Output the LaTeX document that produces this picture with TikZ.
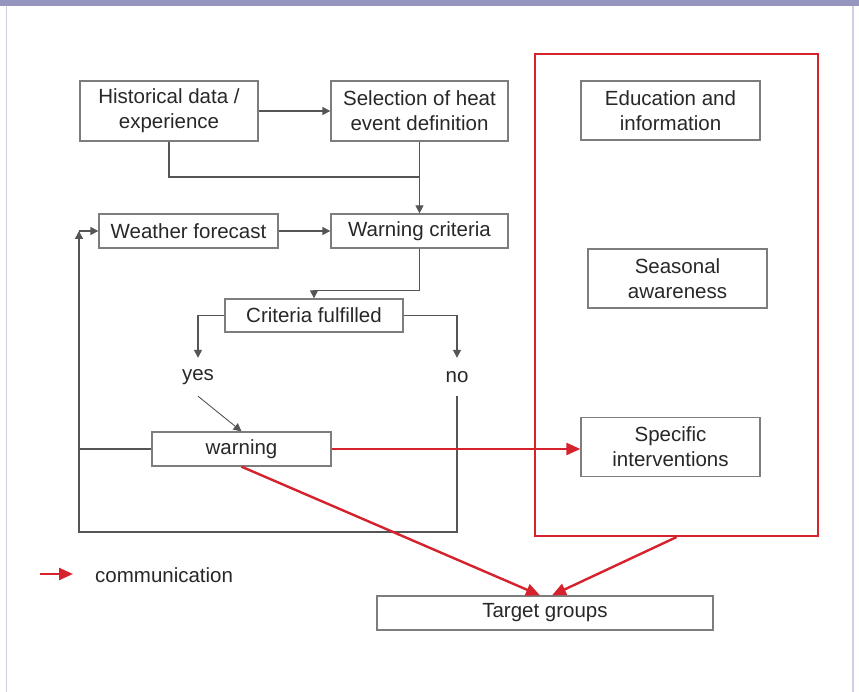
\documentclass[tikz,border=0pt]{standalone}
\usepackage{fontspec}
\setmainfont{Liberation Sans}
\usetikzlibrary{arrows.meta}
\definecolor{bandcol}{RGB}{149,149,192}
\definecolor{framecol}{RGB}{206,206,230}
\definecolor{boxcol}{RGB}{125,125,125}
\definecolor{linecol}{RGB}{85,85,85}
\definecolor{txtcol}{RGB}{40,40,40}
\definecolor{commred}{RGB}{214,34,44}
\tikzset{
  stepbox/.style={draw=boxcol, line width=1.3pt, fill=white, text=txtcol,
    align=center, inner sep=0pt, font=\fontsize{20.5}{25}\selectfont},
  plain/.style={text=txtcol, inner sep=0pt, font=\fontsize{20.5}{25}\selectfont},
  conn/.style={draw=linecol, line width=1.3pt},
  connarrow/.style={conn, -{Triangle[length=8pt,width=8pt]}},
  commarrow/.style={draw=commred, line width=2.4pt, -{Triangle[length=14pt,width=12pt]}},
}
\begin{document}
\begin{tikzpicture}[x=1pt, y=-1pt]
  % page and frame
  \useasboundingbox (0,0) rectangle (859,692);
  \fill[white] (0,0) rectangle (859,692);
  \fill[bandcol] (0,0) rectangle (859,6);
  \draw[framecol, line width=1.6pt] (6.5,6) -- (6.5,692);
  \draw[framecol, line width=1.6pt] (853,6) -- (853,692);

  % measures box
  \node[draw=commred, line width=2.2pt, minimum width=283pt, minimum height=482pt,
        inner sep=0pt] (measures) at (676.5,295) {};

  % process boxes
  \node[stepbox, minimum width=178pt, minimum height=60pt] (hist) at (169,111)
    {Historical data /\\experience};
  \node[stepbox, minimum width=177pt, minimum height=60pt] (sel) at (419.5,111)
    {Selection of heat\\event definition};
  \node[stepbox, minimum width=179pt, minimum height=34pt] (wf) at (188.5,231)
    {Weather forecast};
  \node[stepbox, minimum width=177pt, minimum height=34pt] (wc) at (419.5,231)
    {Warning criteria};
  \node[stepbox, minimum width=178pt, minimum height=33pt] (cf) at (314,315.5)
    {Criteria fulfilled};
  \node[plain, minimum height=38pt] (yes) at (198,377) {yes};
  \node[plain, minimum height=38pt] (no) at (457,377) {no};
  \node[stepbox, minimum width=179pt, minimum height=34pt] (warn) at (241.5,449)
    {warning};

  % measures
  \node[stepbox, minimum width=179pt, minimum height=59pt] (edu) at (670.5,110.5)
    {Education and\\information};
  \node[stepbox, minimum width=179pt, minimum height=59pt] (sea) at (677.5,278.5)
    {Seasonal\\awareness};
  \node[stepbox, minimum width=179pt, minimum height=59pt] (spec) at (670.5,447)
    {Specific\\interventions};

  \node[stepbox, minimum width=336pt, minimum height=34pt] (tg) at (545,613)
    {Target groups};

  % legend
  \coordinate (lgA) at (40,574);
  \coordinate (lgB) at (73,574);
  \draw[commarrow] (lgA) -- (lgB);
  \node[plain, anchor=west] (lgtext) at (95,575) {communication};

  % black flow
  \coordinate (join) at (420,177);
  \draw[connarrow] (hist.east) -- (sel.west);
  \draw[conn] (hist.south) |- (join);
  \draw[connarrow] (sel.south) -- (wc.north);
  \draw[connarrow] (wf.east) -- (wc.west);
  \draw[connarrow] (wc.south) -- ++(0,42) -| (cf.north);
  \draw[connarrow] (cf.west) -| (yes.north);
  \draw[connarrow] (cf.east) -| (no.north);
  \draw[draw=linecol, line width=0.9pt, -{Triangle[length=8pt,width=8pt]}]
    (yes.south) -- (warn.north);

  % feedback loop
  \coordinate (fbl) at (79,532);
  \coordinate (fbm) at (79,449);
  \coordinate (fbt) at (79,231);
  \draw[connarrow] (no.south) |- (fbl) -- (fbt);
  \draw[conn] (warn.west) -- (fbm);
  \draw[connarrow] (fbt) -- (wf.west);

  % communication
  \draw[commarrow] (warn.east) -- (warn.east -| spec.west);
  \draw[commarrow] (warn.south) -- ([xshift=-5pt]tg.north);
  \draw[commarrow] (measures.south) -- ([xshift=7pt]tg.north);
\end{tikzpicture}
\end{document}
